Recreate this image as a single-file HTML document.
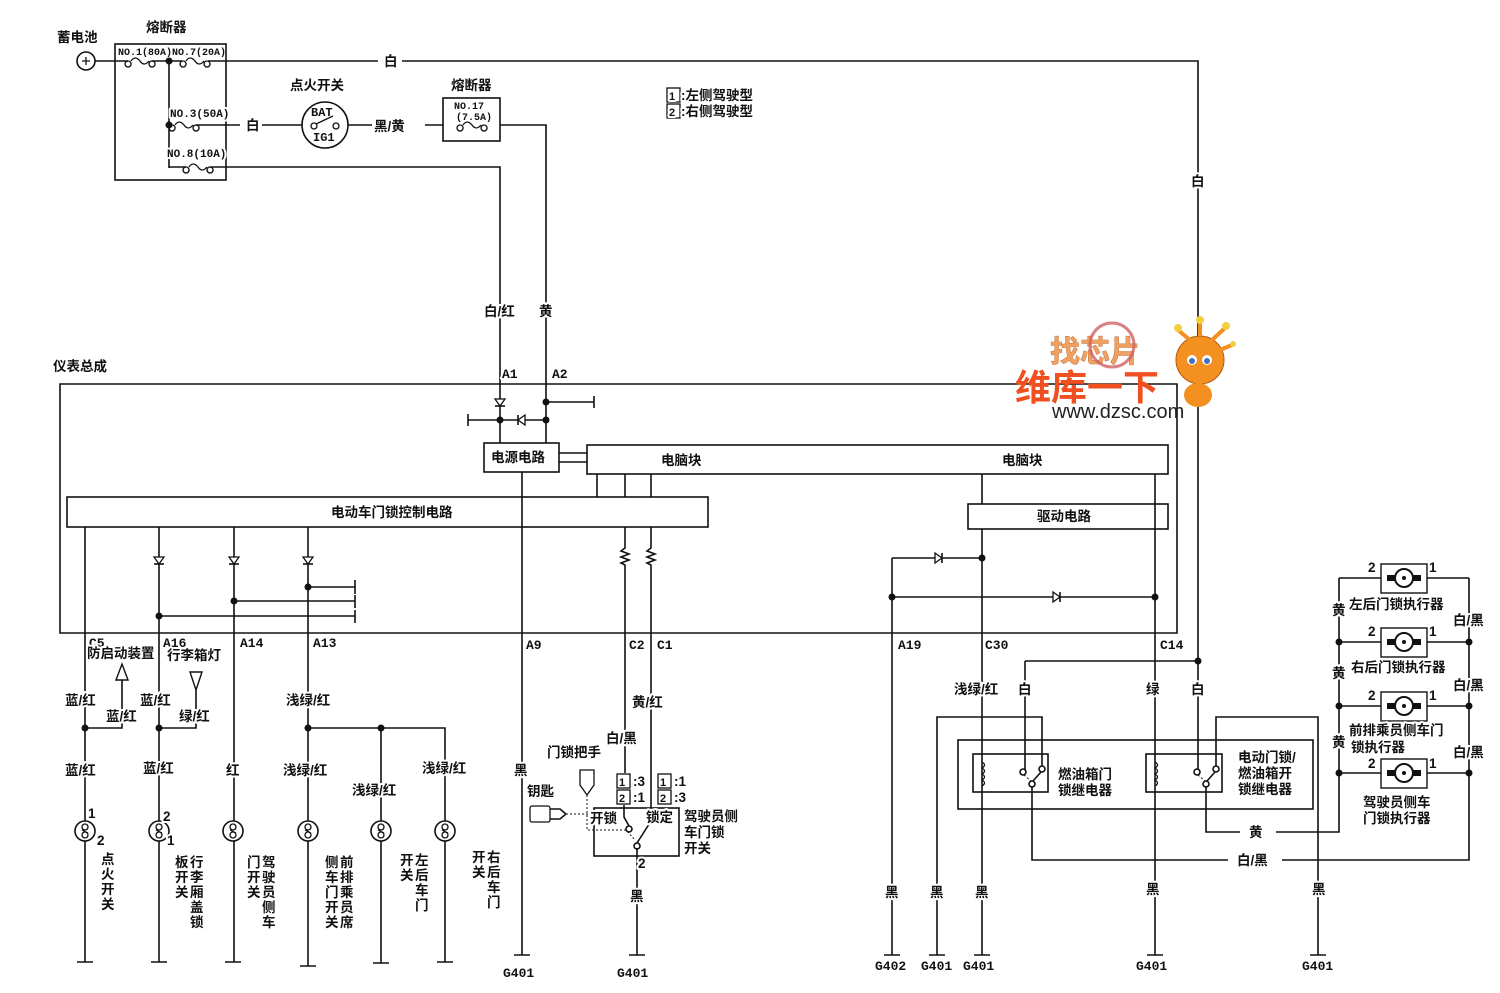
<!DOCTYPE html>
<html><head><meta charset="utf-8"><style>
html,body{margin:0;padding:0;background:#fff;}
svg{display:block}
text{font-family:"Liberation Sans","Noto Sans CJK SC",sans-serif;font-weight:bold;font-size:13.5px;fill:#111;stroke:#fff;stroke-width:4px;paint-order:stroke;stroke-linejoin:round}
.m{font-family:"Liberation Mono","Noto Sans CJK SC",monospace;font-size:13px}
.s{font-size:10px;stroke-width:0}
</style></head><body>
<svg width="1500" height="993" viewBox="0 0 1500 993" xmlns="http://www.w3.org/2000/svg">
<defs>
<g id="sw"><circle r="10" fill="#fff" stroke="#111" stroke-width="1.6"/><circle cx="0" cy="-4" r="3" fill="none" stroke="#111" stroke-width="1.3"/><circle cx="0" cy="4" r="3" fill="none" stroke="#111" stroke-width="1.3"/><line x1="-3" y1="-1" x2="3" y2="2" stroke="#111" stroke-width="1.2"/></g>
<g id="dd"><path d="M-5,-4 L5,-4 L0,3 Z" fill="#fff" stroke="#111" stroke-width="1.3"/><line x1="-5" y1="3" x2="5" y2="3" stroke="#111" stroke-width="1.6"/></g>
<g id="act"><rect x="-23" y="-14" width="46" height="29" fill="#fff" stroke="#111" stroke-width="1.4"/><circle r="9" fill="#fff" stroke="#111" stroke-width="2"/><circle r="2" fill="#111"/><rect x="-17" y="-3" width="8" height="6" fill="#111"/><rect x="9" y="-3" width="8" height="6" fill="#111"/></g>
<g id="fuse"><path d="M-12,0 a3,3 0 1 0 0.1,0 M-9,0 q4,-6 9,0 q4,6 9,0 M12,0 a3,3 0 1 0 0.1,0" fill="none" stroke="#111" stroke-width="1.3"/></g>
</defs>
<g fill="none" stroke="#111" stroke-width="1.6">
<circle cx="86" cy="61" r="9"/>
<path d="M82,61 H90 M86,57 V65" stroke-width="1.3"/>
<rect x="115" y="44" width="111" height="136"/>
<path d="M95,61 H128 M152,61 H182 M208,61 H378 M402,61 H1198 V661"/>
<path d="M169,61 V168 M169,125 H172 M196,125 H240 M262,125 H302 M348,125 H372 M425,125 H443 M500,125 H546 V403"/>
<path d="M169,167 H186 M210,167 H500 V420"/>
<circle cx="325" cy="125" r="23"/>
<rect x="443" y="98" width="57" height="43"/>
<path d="M60,384 H1177 V633 H60 Z"/>
<path d="M500,420 V443 M546,403 V443 M546,402 H594 M594,396 V408 M468,420 H546 M468,414 V426"/>
<rect x="484" y="443" width="75" height="29"/>
<path d="M559,453 H587 M559,462 H587"/>
<rect x="587" y="445" width="581" height="29"/>
<path d="M597,474 V497 M625,474 V497 M651,474 V497"/>
<rect x="67" y="497" width="641" height="30"/>
<rect x="968" y="504" width="200" height="25"/>
<path d="M982,474 V504 M982,529 V955 M1155,474 V955"/>
<path d="M522,472 V955 M85,527 V962 M159,527 V962 M234,527 V962 M308,527 V966"/>
<path d="M308,587 H355 M234,601 H355 M159,616 H355 M355,580 V594 M355,595 V608 M355,610 V623"/>
<path d="M625,527 V548 l-4,3 l8,3 l-8,3 l8,3 l-8,3 l4,2 V773 M651,527 V548 l-4,3 l8,3 l-8,3 l8,3 l-8,3 l4,2 V808"/>
<path d="M892,558 H982 M892,597 H1155 M892,558 V955"/>
<path d="M85,728 H122 V680 M159,728 H196 V690"/>
<path d="M116,680 H128 L122,664 Z M190,672 H202 L196,690 Z" stroke-width="1.4"/>
<path d="M308,728 H445 V962 M381,728 V963"/>
<path d="M77,962 H93 M151,962 H167 M225,962 H241 M300,966 H316 M373,963 H389 M437,962 H453 M514,955 H530 M629,955 H645 M884,955 H900 M929,955 H945 M974,955 H990 M1147,955 H1163 M1310,955 H1326"/>
<rect x="594" y="808" width="85" height="48"/>
<path d="M637,848 V955 M624,805 V817 L629,826"/>
<path d="M637,843 L653,818" />
<circle cx="629" cy="829" r="3"/><circle cx="655" cy="816" r="3"/><circle cx="637" cy="846" r="3"/>
<path d="M580,770 H594 V785 L587,795 L580,785 Z" stroke-width="1.3"/>
<rect x="530" y="806" width="20" height="16" rx="2" stroke-width="1.3"/>
<path d="M550,809 H560 L566,814 L560,819 H550"/>
<path d="M566,814 H590 M587,795 V830 H626 L635,840" stroke-dasharray="2,2" stroke-width="1"/>
<rect x="958" y="740" width="355" height="69"/>
<rect x="973" y="754" width="75" height="38"/>
<rect x="1146" y="754" width="76" height="38"/>
<path d="M1025,661 H1198 M1025,661 V770 M1198,661 V770"/>
<path d="M937,955 V717 H1042 V766 M1318,955 V717 H1216 V766"/>
<path d="M1032,786 V860 H1228 M1282,860 H1469 V578 M1206,786 V832 H1240 M1276,832 H1339 V578"/>
<path d="M1339,578 H1469 M1339,642 H1469 M1339,706 H1469 M1339,773 H1469"/>
<path d="M982,762 q5,3 0,6 q5,3 0,6 q5,3 0,6 q5,3 0,6 M1155,762 q5,3 0,6 q5,3 0,6 q5,3 0,6 q5,3 0,6" stroke-width="1.3"/>
<circle cx="1023" cy="772" r="3"/><circle cx="1042" cy="769" r="3"/><circle cx="1032" cy="784" r="3"/>
<path d="M1033,781 L1041,772"/><path d="M1024,775 L1031,781" stroke-dasharray="2,2" stroke-width="1"/>
<circle cx="1197" cy="772" r="3"/><circle cx="1216" cy="769" r="3"/><circle cx="1206" cy="784" r="3"/>
<path d="M1207,781 L1215,772"/><path d="M1198,775 L1205,781" stroke-dasharray="2,2" stroke-width="1"/>
<rect x="667" y="88" width="13" height="14" stroke-width="1.3"/>
<rect x="667" y="104" width="13" height="14" stroke-width="1.3"/>
<rect x="617" y="774" width="13" height="14" stroke-width="1.3"/><rect x="617" y="790" width="13" height="14" stroke-width="1.3"/>
<rect x="658" y="774" width="13" height="14" stroke-width="1.3"/><rect x="658" y="790" width="13" height="14" stroke-width="1.3"/>
</g>
<use href="#fuse" x="140" y="61"/><use href="#fuse" x="195" y="61"/>
<use href="#fuse" x="184" y="125"/><use href="#fuse" x="198" y="167"/>
<use href="#fuse" x="472" y="125"/>
<circle cx="314" cy="126" r="3" fill="#fff" stroke="#111" stroke-width="1.3"/><circle cx="336" cy="126" r="3" fill="#fff" stroke="#111" stroke-width="1.3"/>
<line x1="316" y1="124" x2="333" y2="116" stroke="#111" stroke-width="1.3"/>
<g fill="#111">
<circle cx="169" cy="61" r="3.5"/><circle cx="169" cy="125" r="3.5"/>
<circle cx="500" cy="420" r="3.5"/><circle cx="546" cy="420" r="3.5"/><circle cx="546" cy="402" r="3.5"/>
<circle cx="308" cy="587" r="3.5"/><circle cx="234" cy="601" r="3.5"/><circle cx="159" cy="616" r="3.5"/>
<circle cx="85" cy="728" r="3.5"/><circle cx="159" cy="728" r="3.5"/><circle cx="308" cy="728" r="3.5"/><circle cx="381" cy="728" r="3.5"/>
<circle cx="982" cy="558" r="3.5"/><circle cx="892" cy="597" r="3.5"/><circle cx="1155" cy="597" r="3.5"/><circle cx="1198" cy="661" r="3.5"/>
<circle cx="1339" cy="642" r="3.5"/><circle cx="1469" cy="642" r="3.5"/><circle cx="1339" cy="706" r="3.5"/><circle cx="1469" cy="706" r="3.5"/><circle cx="1339" cy="773" r="3.5"/><circle cx="1469" cy="773" r="3.5"/>
</g>
<use href="#dd" x="500" y="403"/><use href="#dd" x="159" y="561"/><use href="#dd" x="234" y="561"/><use href="#dd" x="308" y="561"/>
<g transform="translate(521,420) rotate(90)"><use href="#dd"/></g>
<g transform="translate(939,558) rotate(-90)"><use href="#dd"/></g>
<g transform="translate(1057,597) rotate(-90)"><use href="#dd"/></g>
<use href="#sw" x="85" y="831"/><use href="#sw" x="159" y="831"/><use href="#sw" x="233" y="831"/><use href="#sw" x="308" y="831"/><use href="#sw" x="381" y="831"/><use href="#sw" x="445" y="831"/>
<use href="#act" x="1404" y="578"/><use href="#act" x="1404" y="642"/><use href="#act" x="1404" y="706"/><use href="#act" x="1404" y="773"/>
<text x="57" y="42">蓄电池</text><text x="146" y="32">熔断器</text>
<text class="m s" x="118" y="55">NO.1(80A)NO.7(20A)</text>
<text class="m" x="170" y="117" style="font-size:11px">NO.3(50A)</text>
<text class="m" x="167" y="157" style="font-size:11px">NO.8(10A)</text>
<text x="384" y="66">白</text><text x="246" y="130">白</text><text x="374" y="131">黑/黄</text>
<text x="290" y="90">点火开关</text><text x="451" y="90">熔断器</text>
<text class="m" x="311" y="116" style="font-size:12px;stroke-width:0">BAT</text><text class="m" x="313" y="141" style="font-size:12px;stroke-width:0">IG1</text>
<text class="m s" x="454" y="109">NO.17</text><text class="m s" x="456" y="120">(7.5A)</text>
<text x="669" y="100" style="font-size:11px">1</text><text x="669" y="116" style="font-size:11px">2</text>
<text x="681" y="100">:左侧驾驶型</text><text x="681" y="116">:右侧驾驶型</text>
<text x="1191" y="186">白</text>
<text x="484" y="316">白/红</text><text x="539" y="316">黄</text>
<text x="53" y="371">仪表总成</text>
<text class="m" x="502" y="378">A1</text><text class="m" x="552" y="378">A2</text>
<text x="491" y="462">电源电路</text><text x="661" y="465">电脑块</text><text x="1002" y="465">电脑块</text>
<text x="331" y="517">电动车门锁控制电路</text><text x="1037" y="521">驱动电路</text>
<text class="m" x="89" y="647">C5</text><text class="m" x="163" y="647">A16</text><text class="m" x="240" y="647">A14</text><text class="m" x="313" y="647">A13</text>
<text class="m" x="526" y="649">A9</text><text class="m" x="629" y="649">C2</text><text class="m" x="657" y="649">C1</text>
<text class="m" x="898" y="649">A19</text><text class="m" x="985" y="649">C30</text><text class="m" x="1160" y="649">C14</text>
<text x="87" y="658">防启动装置</text><text x="167" y="660">行李箱灯</text>
<text x="65" y="705">蓝/红</text><text x="106" y="721">蓝/红</text><text x="140" y="705">蓝/红</text><text x="179" y="721">绿/红</text>
<text x="65" y="775">蓝/红</text><text x="143" y="773">蓝/红</text><text x="226" y="775">红</text>
<text x="286" y="705">浅绿/红</text><text x="283" y="775">浅绿/红</text><text x="352" y="795">浅绿/红</text><text x="422" y="773">浅绿/红</text>
<text x="514" y="775">黑</text><text x="632" y="707">黄/红</text><text x="606" y="743">白/黑</text>
<text x="547" y="757">门锁把手</text><text x="527" y="796">钥匙</text>
<text x="619" y="786" style="font-size:11px;stroke-width:0">1</text><text x="619" y="802" style="font-size:11px;stroke-width:0">2</text><text x="633" y="786">:3</text><text x="633" y="802">:1</text>
<text x="660" y="786" style="font-size:11px;stroke-width:0">1</text><text x="660" y="802" style="font-size:11px;stroke-width:0">2</text><text x="674" y="786">:1</text><text x="674" y="802">:3</text>
<text x="590" y="823">开锁</text><text x="646" y="822">锁定</text>
<text x="684" y="821">驾驶员侧</text><text x="684" y="837">车门锁</text><text x="684" y="853">开关</text>
<text x="638" y="868">2</text><text x="630" y="901">黑</text>
<text x="88" y="818">1</text><text x="97" y="845">2</text><text x="163" y="821">2</text><text x="167" y="845">1</text>
<g>
<text x="101" y="864">点</text><text x="101" y="879">火</text><text x="101" y="894">开</text><text x="101" y="909">关</text>
<text x="175" y="867">板</text><text x="175" y="882">开</text><text x="175" y="897">关</text>
<text x="190" y="867">行</text><text x="190" y="882">李</text><text x="190" y="897">厢</text><text x="190" y="912">盖</text><text x="190" y="927">锁</text>
<text x="247" y="867">门</text><text x="247" y="882">开</text><text x="247" y="897">关</text>
<text x="262" y="867">驾</text><text x="262" y="882">驶</text><text x="262" y="897">员</text><text x="262" y="912">侧</text><text x="262" y="927">车</text>
<text x="325" y="867">侧</text><text x="325" y="882">车</text><text x="325" y="897">门</text><text x="325" y="912">开</text><text x="325" y="927">关</text>
<text x="340" y="867">前</text><text x="340" y="882">排</text><text x="340" y="897">乘</text><text x="340" y="912">员</text><text x="340" y="927">席</text>
<text x="400" y="865">开</text><text x="400" y="880">关</text>
<text x="415" y="865">左</text><text x="415" y="880">后</text><text x="415" y="895">车</text><text x="415" y="910">门</text>
<text x="472" y="862">开</text><text x="472" y="877">关</text>
<text x="487" y="862">右</text><text x="487" y="877">后</text><text x="487" y="892">车</text><text x="487" y="907">门</text>
</g>
<text class="m" x="503" y="977">G401</text><text class="m" x="617" y="977">G401</text>
<text class="m" x="875" y="970">G402</text><text class="m" x="921" y="970">G401</text><text class="m" x="963" y="970">G401</text><text class="m" x="1136" y="970">G401</text><text class="m" x="1302" y="970">G401</text>
<text x="885" y="897">黑</text><text x="930" y="897">黑</text><text x="975" y="897">黑</text><text x="1146" y="894">黑</text><text x="1312" y="894">黑</text>
<text x="954" y="694">浅绿/红</text><text x="1018" y="694">白</text><text x="1146" y="694">绿</text><text x="1191" y="694">白</text>
<text x="1058" y="779" style="stroke-width:0">燃油箱门</text><text x="1058" y="795" style="stroke-width:0">锁继电器</text>
<text x="1238" y="762" style="stroke-width:0">电动门锁/</text><text x="1238" y="778" style="stroke-width:0">燃油箱开</text><text x="1238" y="794" style="stroke-width:0">锁继电器</text>
<text x="1249" y="837">黄</text><text x="1237" y="865">白/黑</text>
<text x="1368" y="572">2</text><text x="1429" y="572">1</text><text x="1368" y="636">2</text><text x="1429" y="636">1</text><text x="1368" y="700">2</text><text x="1429" y="700">1</text><text x="1368" y="768">2</text><text x="1429" y="768">1</text>
<text x="1349" y="609">左后门锁执行器</text><text x="1351" y="672">右后门锁执行器</text>
<text x="1349" y="735">前排乘员侧车门</text><text x="1351" y="752">锁执行器</text>
<text x="1363" y="807">驾驶员侧车</text><text x="1363" y="823">门锁执行器</text>
<text x="1332" y="615">黄</text><text x="1332" y="678">黄</text><text x="1332" y="747">黄</text>
<text x="1453" y="625">白/黑</text><text x="1453" y="690">白/黑</text><text x="1453" y="757">白/黑</text>
<text x="1050" y="362" style="font-size:30px;fill:#f0a060;stroke:#a05020;stroke-width:0.6">找芯片</text>
<circle cx="1112" cy="345" r="22" fill="none" stroke="#d06060" stroke-width="3" opacity="0.8"/>
<text x="1015" y="400" style="font-size:36px;fill:#f05020;stroke-width:0">维库一下</text>
<text x="1052" y="418" style="font-size:20px;font-weight:normal;fill:#222;stroke-width:0">www.dzsc.com</text>
<circle cx="1200" cy="360" r="24" fill="#f39020" stroke="#b05a10"/>
<circle cx="1192" cy="360" r="5" fill="#fff"/><circle cx="1207" cy="360" r="5" fill="#fff"/>
<circle cx="1192" cy="361" r="3" fill="#4070c0"/><circle cx="1207" cy="361" r="3" fill="#4070c0"/>
<path d="M1190,340 L1178,330 M1200,336 L1200,322 M1212,340 L1225,328 M1220,350 L1232,345" stroke="#f39020" stroke-width="4"/>
<circle cx="1178" cy="328" r="4" fill="#f0d040"/><circle cx="1200" cy="320" r="4" fill="#f0d040"/><circle cx="1226" cy="326" r="4" fill="#f0d040"/><circle cx="1233" cy="344" r="3" fill="#f0d040"/>
<ellipse cx="1198" cy="395" rx="14" ry="12" fill="#f39020"/>
</svg>
</body></html>
